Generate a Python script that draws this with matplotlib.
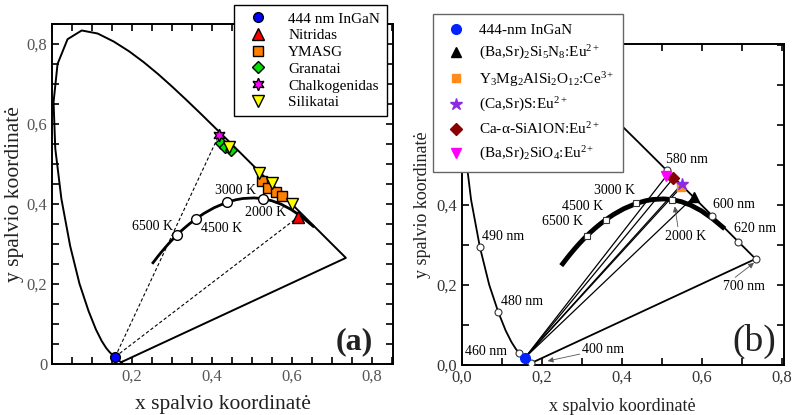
import numpy as np
import matplotlib.pyplot as plt
from matplotlib.ticker import MultipleLocator
from matplotlib.lines import Line2D

plt.rcParams['font.family'] = ['Liberation Serif', 'DejaVu Serif']
plt.rcParams['mathtext.fontset'] = 'custom'
plt.rcParams['mathtext.rm'] = 'Liberation Serif'
plt.rcParams['mathtext.it'] = 'Liberation Serif:italic'
plt.rcParams['mathtext.bf'] = 'Liberation Serif:bold'

# CIE 1931 spectral locus (wavelength, x, y)
wl = [380, 390, 400, 410, 420, 430, 440, 450, 460, 465, 470, 475, 480, 485,
      490, 495, 500, 505, 510, 515, 520, 525, 530, 535, 540, 545, 550, 555,
      560, 565, 570, 575, 580, 585, 590, 595, 600, 605, 610, 620, 630, 640,
      650, 660, 680, 700]
locus_x = [0.1741, 0.1738, 0.1733, 0.1726, 0.1714, 0.1689, 0.1644, 0.1566,
           0.1440, 0.1355, 0.1241, 0.1096, 0.0913, 0.0687, 0.0454, 0.0235,
           0.0082, 0.0039, 0.0139, 0.0389, 0.0743, 0.1142, 0.1547, 0.1929,
           0.2296, 0.2658, 0.3016, 0.3373, 0.3731, 0.4087, 0.4441, 0.4788,
           0.5125, 0.5448, 0.5752, 0.6029, 0.6270, 0.6482, 0.6658, 0.6915,
           0.7079, 0.7190, 0.7260, 0.7300, 0.7334, 0.7347]
locus_y = [0.0050, 0.0049, 0.0048, 0.0048, 0.0051, 0.0069, 0.0109, 0.0177,
           0.0297, 0.0399, 0.0578, 0.0868, 0.1327, 0.2007, 0.2950, 0.4127,
           0.5384, 0.6548, 0.7502, 0.8120, 0.8338, 0.8262, 0.8059, 0.7816,
           0.7543, 0.7243, 0.6923, 0.6589, 0.6245, 0.5896, 0.5547, 0.5202,
           0.4866, 0.4544, 0.4242, 0.3965, 0.3725, 0.3514, 0.3340, 0.3083,
           0.2920, 0.2809, 0.2740, 0.2700, 0.2666, 0.2653]

# Planckian locus
cct = [25000, 20000, 15000, 12000, 10000, 9000, 8000, 7000, 6500, 6000, 5500,
       5000, 4500, 4000, 3500, 3000, 2700, 2500, 2200, 2000, 1800, 1600, 1400,
       1200, 1000]
planck_x = [0.2525, 0.2565, 0.2637, 0.2719, 0.2807, 0.2869, 0.2952, 0.3064,
            0.3135, 0.3221, 0.3325, 0.3451, 0.3608, 0.3805, 0.4053, 0.4369,
            0.4599, 0.4770, 0.5056, 0.5267, 0.5493, 0.5732, 0.5985, 0.6251,
            0.6528]
planck_y = [0.2532, 0.2583, 0.2677, 0.2779, 0.2884, 0.2956, 0.3048, 0.3166,
            0.3237, 0.3318, 0.3411, 0.3516, 0.3636, 0.3768, 0.3907, 0.4041,
            0.4106, 0.4137, 0.4152, 0.4133, 0.4082, 0.3993, 0.3858, 0.3674,
            0.3444]
cct_marked = [6500, 4500, 3000, 2000]

# panel (a) points
led_a = (0.158, 0.018)
nitr_x, nitr_y = [0.616], [0.368]
ymasg_x = [0.526, 0.541, 0.560, 0.576]
ymasg_y = [0.457, 0.439, 0.429, 0.421]
gran_x = [0.422, 0.433, 0.447]
gran_y = [0.553, 0.543, 0.535]
chalk_x, chalk_y = [0.4175], [0.5725]
sil_x = [0.443, 0.518, 0.549, 0.601]
sil_y = [0.543, 0.477, 0.453, 0.399]
names_a = ['444 nm InGaN', 'Nitridas', 'YMASG', 'Granatai', 'Chalkogenidas', 'Silikatai']

# panel (b) points
led_b = (0.158, 0.018)
ph_x = [0.581, 0.548, 0.550, 0.529, 0.512]
ph_y = [0.421, 0.444, 0.452, 0.467, 0.473]
names_b = ['444-nm InGaN',
           r'(Ba,Sr)$_2$Si$_5$N$_8$:Eu$^{2+}$',
           r'Y$_3$Mg$_2$AlSi$_2$O$_{12}$:Ce$^{3+}$',
           r'(Ca,Sr)S:Eu$^{2+}$',
           r'Ca-α-SiAlON:Eu$^{2+}$',
           r'(Ba,Sr)$_2$SiO$_4$:Eu$^{2+}$']
wl_marked = [400, 460, 480, 490, 580, 600, 620, 700]

xt_a = [0.2, 0.4, 0.6, 0.8]
xt_a_lab = ['0,2', '0,4', '0,6', '0,8']
yt_a = [0, 0.2, 0.4, 0.6, 0.8]
yt_a_lab = ['0', '0,2', '0,4', '0,6', '0,8']
t_b = [0, 0.2, 0.4, 0.6, 0.8]
t_b_lab = ['0,0', '0,2', '0,4', '0,6', '0,8']

fig = plt.figure(figsize=(7.95, 4.15), dpi=100)
axA = fig.add_axes([52/795, 51/415, 341/795, 340/415])
axB = fig.add_axes([461.7/795, 50/415, 322/795, 321/415])

lx = locus_x + [locus_x[0]]
ly = locus_y + [locus_y[0]]

# ---- panel (a)
axA.plot(lx, ly, color='black', lw=1.4, zorder=2)
axA.plot(planck_x, planck_y, color='black', lw=2, zorder=2)
for px, py in [(chalk_x[0], chalk_y[0]), (nitr_x[0], nitr_y[0])]:
    axA.plot([led_a[0], px], [led_a[1], py], color='black', lw=0.8,
             dashes=(3, 2), zorder=2)
mi = [cct.index(t) for t in cct_marked]
axA.plot([planck_x[i] for i in mi], [planck_y[i] for i in mi], 'o', mfc='white',
         mec='black', ms=7, mew=1, zorder=3)
axA.text(0.3025, 0.345, '6500 K', ha='right', va='center', fontsize=10)
axA.text(0.3725, 0.34, '4500 K', ha='left', va='center', fontsize=10)
axA.text(0.4075, 0.433, '3000 K', ha='left', va='center', fontsize=10)
axA.text(0.4825, 0.38, '2000 K', ha='left', va='center', fontsize=10)

kw = dict(ls='none', mec='black', mew=1, zorder=4)
h1, = axA.plot([led_a[0]], [led_a[1]], marker='o', mfc='#0000ff', ms=7, **kw)
h2, = axA.plot(nitr_x, nitr_y, marker='^', mfc='#ff0000', ms=8, **kw)
h3, = axA.plot(ymasg_x, ymasg_y, marker='s', mfc='#ff7f00', ms=7, **kw)
h4, = axA.plot(gran_x, gran_y, marker='D', mfc='#00e000', ms=6, **kw)
h5, = axA.plot(chalk_x, chalk_y, marker=(6, 1, 0), mfc='#ff00ff', ms=9, **kw)
h6, = axA.plot(sil_x, sil_y, marker='v', mfc='#ffff00', ms=8, **kw)

axA.set_xlim(0, 0.8525)
axA.set_ylim(0, 0.85)
axA.set_xticks(xt_a)
axA.set_xticklabels(xt_a_lab)
axA.set_yticks(yt_a)
axA.set_yticklabels(yt_a_lab)
axA.xaxis.set_minor_locator(MultipleLocator(0.05))
axA.yaxis.set_minor_locator(MultipleLocator(0.05))
axA.tick_params(which='both', direction='in', top=True, right=True, length=5,
                width=1.2, labelsize=12, labelcolor='#555555')
for s in axA.spines.values():
    s.set_linewidth(1.4)
axA.set_xlabel('x spalvio koordinatė', fontsize=15.5, color='#222222', labelpad=7)
axA.set_ylabel('y spalvio koordinatė', fontsize=15.5, color='#222222', labelpad=2)
axA.text(0.886, 0.066, '(a)', transform=axA.transAxes, fontsize=23,
         fontweight='bold', ha='center', va='center', color='#222222')

fig.legend([h1, h2, h3, h4, h5, h6], names_a, loc='upper right',
           bbox_to_anchor=(387/795, 1 - 5/415), fontsize=11, frameon=True,
           fancybox=False, edgecolor='black', framealpha=1, labelspacing=0.2,
           handlelength=2.2, handletextpad=0.9, borderpad=0.45, numpoints=1,
           borderaxespad=0)

# ---- panel (b)
axB.plot(lx, ly, color='black', lw=1.3, zorder=2)
axB.plot(planck_x, planck_y, color='black', lw=3.5, zorder=2)
for px, py in zip(ph_x, ph_y):
    axB.plot([led_b[0], px], [led_b[1], py], color='black', lw=0.9, zorder=2)
wi = [wl.index(w) for w in wl_marked]
axB.plot([locus_x[i] for i in wi], [locus_y[i] for i in wi], 'o', mfc='white',
         mec='#333333', ms=5, mew=0.8, zorder=3)
axB.plot([planck_x[i] for i in mi], [planck_y[i] for i in mi], 's', mfc='white',
         mec='#333333', ms=5, mew=0.8, zorder=3)

fs = 10
axB.text(0.05, 0.321, '490 nm', ha='left', va='center', fontsize=fs)
axB.text(0.098, 0.158, '480 nm', ha='left', va='center', fontsize=fs)
axB.text(0.114, 0.033, '460 nm', ha='right', va='center', fontsize=fs)
axB.text(0.51, 0.514, '580 nm', ha='left', va='center', fontsize=fs)
axB.text(0.6275, 0.4025, '600 nm', ha='left', va='center', fontsize=fs)
axB.text(0.681, 0.342, '620 nm', ha='left', va='center', fontsize=fs)
axB.text(0.33, 0.4375, '3000 K', ha='left', va='center', fontsize=fs)
axB.text(0.25, 0.396, '4500 K', ha='left', va='center', fontsize=fs)
axB.text(0.2, 0.36, '6500 K', ha='left', va='center', fontsize=fs)
ap = dict(arrowstyle='-|>', color='#555555', lw=0.6, mutation_scale=8,
          shrinkA=0, shrinkB=0)
axB.annotate('400 nm', xy=(0.215, 0.01), xytext=(0.302, 0.04), fontsize=fs,
             ha='left', va='center', arrowprops=ap)
i700 = wl.index(700)
axB.annotate('700 nm', xy=(locus_x[i700] - 0.004, locus_y[i700] - 0.01),
             xytext=(0.706, 0.196), fontsize=fs, ha='center', va='center',
             arrowprops=dict(ap, relpos=(0.2, 1.0)))
i2000 = cct.index(2000)
axB.annotate('2000 K', xy=(planck_x[i2000] + 0.006, planck_y[i2000] - 0.017),
             xytext=(0.56, 0.3225), fontsize=fs, ha='center', va='center',
             arrowprops=dict(ap, relpos=(0.32, 1.0)))

kb = dict(ls='none', zorder=4)
g1, = axB.plot([led_b[0]], [led_b[1]], marker='o', color='#0022ff', ms=7, **kb)
g2, = axB.plot(ph_x[0], ph_y[0], marker='^', color='black', ms=7, **kb)
g3, = axB.plot(ph_x[1], ph_y[1], marker='s', color='#ff8c1a', ms=6, **kb)
g4, = axB.plot(ph_x[2], ph_y[2], marker='*', color='#8a2be2', ms=9, **kb)
g5, = axB.plot(ph_x[3], ph_y[3], marker='D', color='#8b0000', ms=6, **kb)
g6, = axB.plot(ph_x[4], ph_y[4], marker='v', color='#ff00ff', ms=7, **kb)

axB.set_xlim(0, 0.805)
axB.set_ylim(0, 0.8025)
axB.set_xticks(t_b)
axB.set_xticklabels(t_b_lab)
axB.set_yticks(t_b)
axB.set_yticklabels(t_b_lab)
axB.xaxis.set_minor_locator(MultipleLocator(0.1))
axB.yaxis.set_minor_locator(MultipleLocator(0.1))
axB.tick_params(which='both', direction='in', top=True, right=True, length=5,
                width=1.2, labelsize=12, labelcolor='#333333')
for s in axB.spines.values():
    s.set_linewidth(1.4)
axB.set_xlabel('x spalvio koordinatė', fontsize=13, color='#222222', labelpad=9)
axB.set_ylabel('y spalvio koordinatė', fontsize=13, color='#222222', labelpad=4)
axB.text(0.908, 0.073, '(b)', transform=axB.transAxes, fontsize=27,
         ha='center', va='center', color='#222222')

fig.legend([g1, g2, g3, g4, g5, g6], names_b, loc='upper left',
           bbox_to_anchor=(433/795, 1 - 14/415), fontsize=11, frameon=True,
           fancybox=False, edgecolor='#666666', framealpha=1, labelspacing=0.48,
           handlelength=1.8, handletextpad=0.6, borderpad=0.6, numpoints=1,
           borderaxespad=0)

fig.savefig('out.png', dpi=100)
